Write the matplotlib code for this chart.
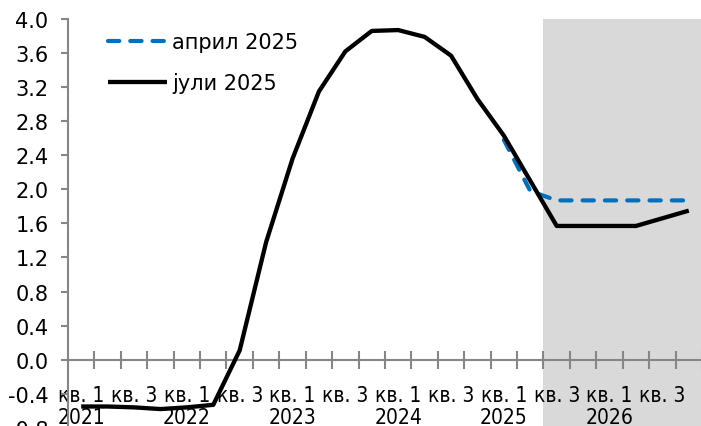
import numpy as np
import matplotlib
matplotlib.use("Agg")
import matplotlib.pyplot as plt

plt.rcParams['font.family'] = ['DejaVu Sans']

# Quarterly inflation projection, 2021 Q1 - 2026 Q4
years = [2021, 2022, 2023, 2024, 2025, 2026]
quarters = ["кв. 1", "кв. 2", "кв. 3", "кв. 4"]

jul_2025 = [-0.55, -0.55, -0.56, -0.58, -0.56, -0.53, 0.11, 1.38,
            2.36, 3.15, 3.62, 3.86, 3.87, 3.79, 3.57, 3.06,
            2.63, 2.10, 1.57, 1.57, 1.57, 1.57, 1.66, 1.75]
apr_2025 = [np.nan] * 16 + [2.58, 1.98, 1.87, 1.87, 1.87, 1.87, 1.87, 1.87]

label_apr = "април 2025"
label_jul = "јули 2025"
forecast_start = 18  # first projected quarter (2025 Q3)

n = len(jul_2025)
x = np.arange(n)

W, H = 701, 427
fig = plt.figure(figsize=(W / 100, H / 100), dpi=100)
ax = fig.add_axes([68 / W, (H - 428.8) / H, 634 / W, (428.8 - 20) / H])

ax.set_xlim(-0.5, n - 0.5)
ax.set_ylim(-0.8, 4.0)

ax.axvspan(forecast_start - 0.5, n - 0.5, color="#D9D9D9", zorder=0, lw=0)

blue, = ax.plot(x, apr_2025, color="#0070C0", lw=3, linestyle=(0, (2.7, 2.65)),
                dash_capstyle="round", zorder=3, label=label_apr)
black, = ax.plot(x, jul_2025, color="black", lw=3.1, zorder=4, label=label_jul,
                 solid_capstyle="butt")

# axes styling
axis_gray = "#868686"
for s in ["top", "right"]:
    ax.spines[s].set_visible(False)
ax.spines["left"].set_color(axis_gray)
ax.spines["left"].set_linewidth(1.5)
ax.spines["bottom"].set_position(("data", 0))
ax.spines["bottom"].set_color(axis_gray)
ax.spines["bottom"].set_linewidth(1.5)

yt = np.round(np.arange(-0.8, 4.01, 0.4), 1)
ax.set_yticks(yt)
ax.set_yticklabels([f"{v:.1f}" for v in yt])
ax.tick_params(axis="y", direction="out", length=5, width=1.5, color=axis_gray,
               labelsize=15, pad=9)

# category boundaries as crossing ticks, labels at every other quarter
ax.set_xticks(np.arange(n + 1) - 0.5)
ax.set_xticklabels([])
ax.tick_params(axis="x", which="major", direction="inout", length=13, width=1.5,
               color=axis_gray)
lab_pos = []
lab_txt = []
for i in range(0, n, 2):
    yr = years[i // 4]
    q = quarters[i % 4]
    lab_pos.append(i)
    lab_txt.append(f"{q}\n{yr}" if i % 4 == 0 else q)
ax.set_xticks(lab_pos, minor=True)
ax.set_xticklabels(lab_txt, minor=True, fontsize=15, linespacing=1.12,
                   fontstretch="condensed")
ax.tick_params(axis="x", which="minor", length=0, pad=18.5)

leg = ax.legend(handles=[blue, black], loc="upper left",
                bbox_to_anchor=(32 / 634, 1.0 - 5 / 408.8), frameon=False,
                fontsize=15, handlelength=2.8, handletextpad=0.25,
                labelspacing=0.95, borderaxespad=0)

fig.savefig("out.png", dpi=100)
